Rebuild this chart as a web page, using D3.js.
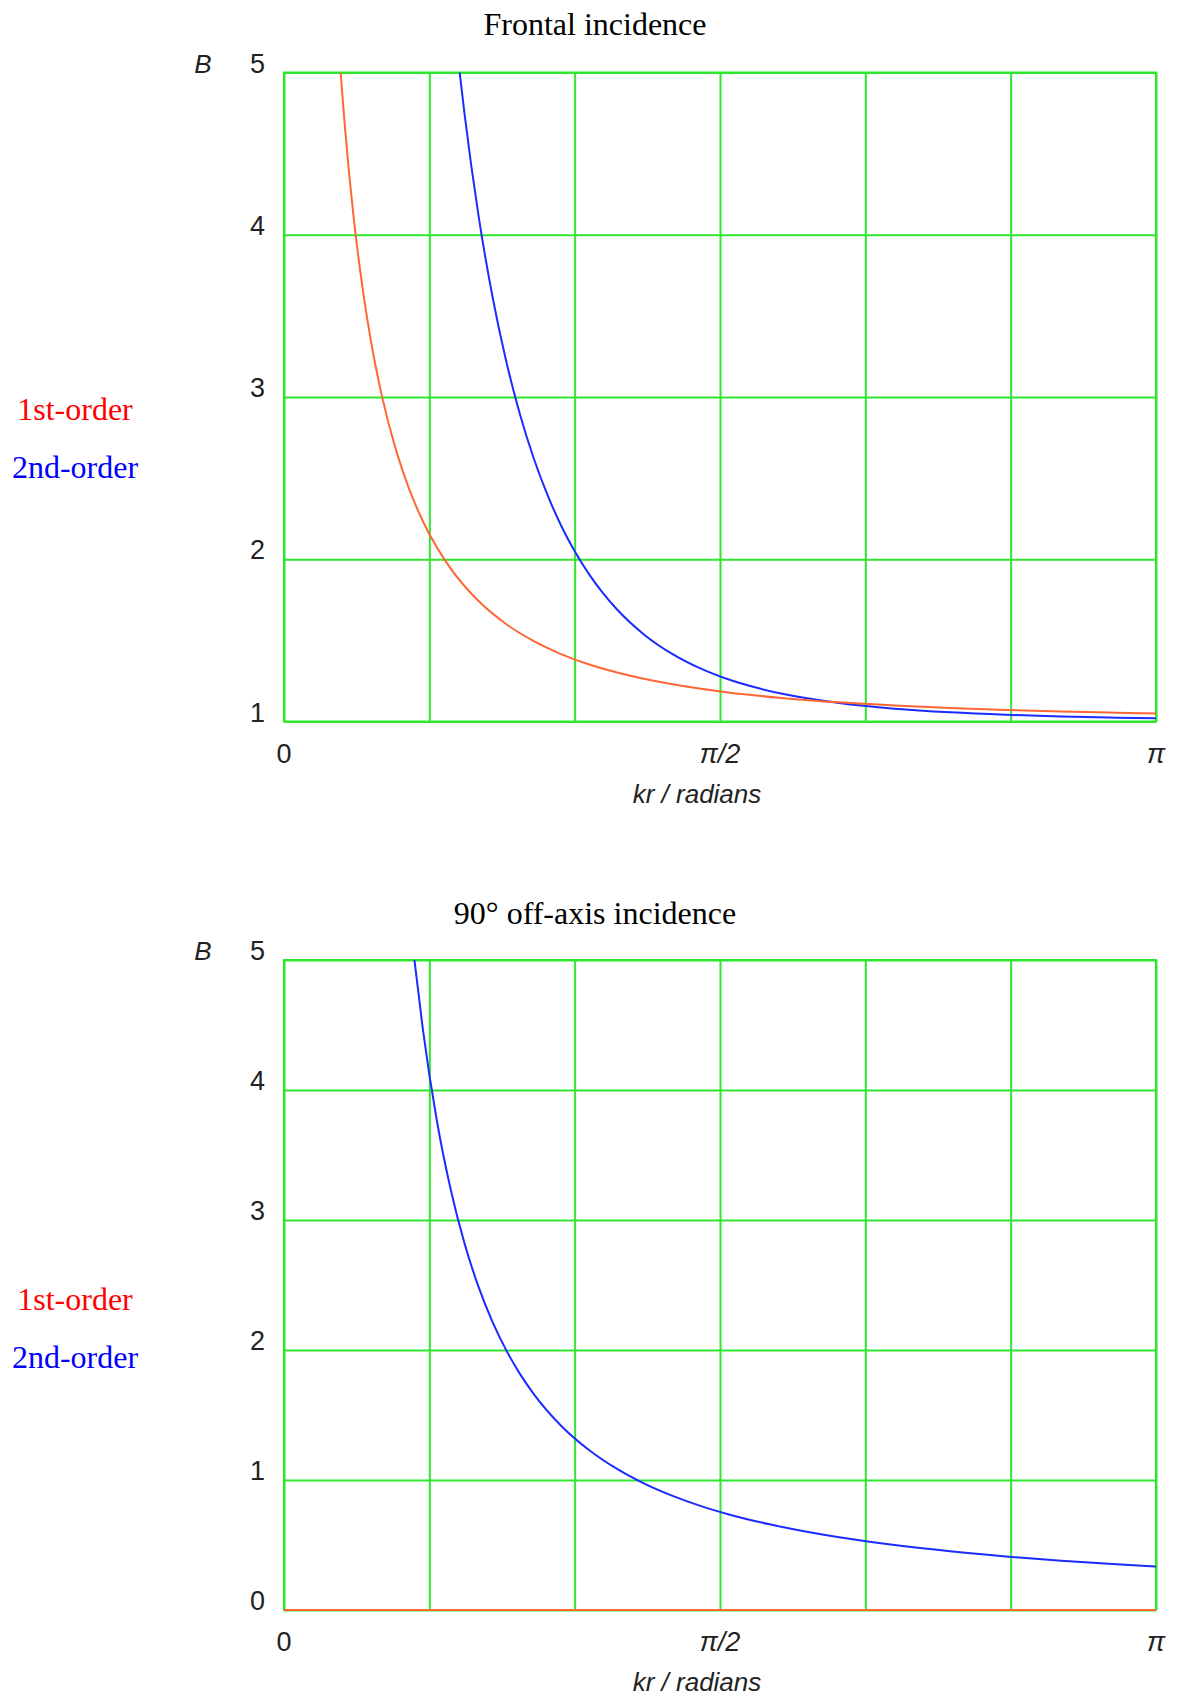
<!DOCTYPE html>
<html>
<head>
<meta charset="utf-8">
<script src="https://cdn.jsdelivr.net/npm/d3@7"></script>
<style>
  body { margin: 0; background: #fff; }
  svg { display: block; }
</style>
</head>
<body>
<div id="chart"></div>
<script>
// values
const PI = Math.PI;

// frontal incidence, 1st-order (orange)
const krFront1 = [0.2041, 0.21, 0.22, 0.235, 0.25, 0.275, 0.3, 0.325, 0.35, 0.4, 0.45, 0.5, 0.55, 0.6, 0.7, 0.8, 0.9, 1.0, 1.1, 1.2, 1.4, 1.6, 1.8, 2.0, 2.2, 2.4, 2.6, 2.8, 3.0, 3.1416];
const bFront1 = [5.0, 4.866, 4.654, 4.371, 4.123, 3.771, 3.480, 3.235, 3.027, 2.693, 2.437, 2.236, 2.075, 1.944, 1.744, 1.601, 1.495, 1.414, 1.351, 1.302, 1.229, 1.179, 1.144, 1.118, 1.0985, 1.0833, 1.0713, 1.0619, 1.0541, 1.0494];

// frontal incidence, 2nd-order (blue)
const krFront2 = [0.6329, 0.65, 0.7, 0.75, 0.8, 0.85, 0.9, 0.95, 1.0, 1.05, 1.1, 1.15, 1.2, 1.3, 1.4, 1.5, 1.6, 1.7, 1.8, 2.0, 2.2, 2.4, 2.6, 2.8, 3.0, 3.1416];
const bFront2 = [5.0, 4.751, 4.127, 3.629, 3.225, 2.894, 2.621, 2.393, 2.202, 2.041, 1.905, 1.789, 1.690, 1.532, 1.415, 1.327, 1.260, 1.209, 1.169, 1.114, 1.079, 1.0565, 1.0413, 1.0308, 1.0235, 1.0196];

// 90 deg off-axis incidence, 1st-order (orange, zero everywhere)
const krSide1 = [0, 3.1416];
const bSide1 = [0, 0];

// 90 deg off-axis incidence, 2nd-order (blue)
const krSide2 = [0.47, 0.5, 0.55, 0.6, 0.65, 0.7, 0.75, 0.8, 0.85, 0.9, 1.0, 1.1, 1.2, 1.3, 1.4, 1.5, 1.6, 1.8, 2.0, 2.2, 2.4, 2.6, 2.8, 3.0, 3.1416];
const bSide2 = [5.0, 4.472, 3.773, 3.240, 2.823, 2.491, 2.222, 2.001, 1.8165, 1.661, 1.414, 1.229, 1.085, 0.9705, 0.878, 0.8012, 0.737, 0.636, 0.559, 0.4993, 0.4514, 0.412, 0.3792, 0.3514, 0.334];

const gridX = [0, PI / 6, PI / 3, PI / 2, 2 * PI / 3, 5 * PI / 6, PI];
const xTickVals = [0, PI / 2, PI];
const xTickLabels = ["0", "π/2", "π"];
const yTicksFront = [1, 2, 3, 4, 5];
const yTicksSide = [0, 1, 2, 3, 4, 5];
const legendLabels = ["1st-order", "2nd-order"];

const colors = {
  grid: "#2ee62e",
  first: "#ff6633",
  second: "#1a2cff",
  legend1: "#ff0000",
  legend2: "#0000ff"
};

const width = 1178, height = 1700;
const svg = d3.select("#chart").append("svg")
  .attr("width", width)
  .attr("height", height);

function drawPanel(p) {
  const x = d3.scaleLinear().domain([0, PI]).range([284, 1156]);
  const y = d3.scaleLinear().domain(p.yDomain).range([p.bottom, p.top]);
  const g = svg.append("g");

  // title
  g.append("text")
    .attr("x", 595).attr("y", p.titleY)
    .attr("text-anchor", "middle")
    .attr("font-family", "Liberation Serif, Times New Roman, serif")
    .attr("font-size", 32)
    .text(p.title);

  // legend
  legendLabels.forEach((t, i) => {
    g.append("text")
      .attr("x", 75).attr("y", p.legendY + i * 58)
      .attr("text-anchor", "middle")
      .attr("font-family", "Liberation Serif, Times New Roman, serif")
      .attr("font-size", 32)
      .attr("fill", i === 0 ? colors.legend1 : colors.legend2)
      .text(t);
  });

  // grid
  const gx = g.append("g")
    .attr("transform", `translate(0,${p.bottom})`)
    .call(d3.axisBottom(x).tickValues(gridX).tickSize(-(p.bottom - p.top)).tickFormat(""));
  const gy = g.append("g")
    .attr("transform", "translate(284,0)")
    .call(d3.axisLeft(y).tickValues(p.yTicks).tickSize(-(1156 - 284)).tickFormat(""));
  [gx, gy].forEach(a => {
    a.select(".domain").remove();
    a.selectAll(".tick line").attr("stroke", colors.grid).attr("stroke-width", 2);
  });
  g.append("rect")
    .attr("x", 284).attr("y", p.top)
    .attr("width", 1156 - 284).attr("height", p.bottom - p.top)
    .attr("fill", "none").attr("stroke", colors.grid).attr("stroke-width", 2);

  // y tick labels
  g.selectAll(".ylab").data(p.yTicks).enter().append("text")
    .attr("x", 265).attr("y", d => y(d))
    .attr("text-anchor", "end")
    .attr("font-family", "Liberation Sans, Arial, sans-serif")
    .attr("font-size", 27)
    .attr("fill", "#222")
    .text(d => d);

  g.append("text")
    .attr("x", 203).attr("y", p.top)
    .attr("text-anchor", "middle")
    .attr("font-family", "Liberation Sans, Arial, sans-serif")
    .attr("font-style", "italic")
    .attr("font-size", 26)
    .attr("fill", "#222")
    .text("B");

  // x tick labels
  g.selectAll(".xlab").data(xTickVals).enter().append("text")
    .attr("x", d => x(d)).attr("y", p.bottom + 41)
    .attr("text-anchor", "middle")
    .attr("font-family", "Liberation Sans, Arial, sans-serif")
    .attr("font-style", (d, i) => i === 0 ? "normal" : "italic")
    .attr("font-size", 27)
    .attr("fill", "#222")
    .text((d, i) => xTickLabels[i]);

  g.append("text")
    .attr("x", 697).attr("y", p.bottom + 81)
    .attr("text-anchor", "middle")
    .attr("font-family", "Liberation Sans, Arial, sans-serif")
    .attr("font-style", "italic")
    .attr("font-size", 26)
    .attr("fill", "#222")
    .text("kr / radians");

  // curves
  const clipId = "clip" + p.id;
  svg.append("clipPath").attr("id", clipId)
    .append("rect")
    .attr("x", 284).attr("y", p.top - 1)
    .attr("width", 1156 - 284).attr("height", p.bottom - p.top + 2);

  const line = d3.line()
    .x(d => x(d[0]))
    .y(d => y(d[1]))
    .curve(d3.curveMonotoneX);

  p.series.forEach(s => {
    g.append("path")
      .datum(d3.zip(s.kr, s.b))
      .attr("clip-path", `url(#${clipId})`)
      .attr("fill", "none")
      .attr("stroke", s.color)
      .attr("stroke-width", 2)
      .attr("d", line);
  });
}

drawPanel({
  id: 1,
  title: "Frontal incidence",
  titleY: 35,
  legendY: 420,
  top: 72.5,
  bottom: 721.5,
  yDomain: [1, 5],
  yTicks: yTicksFront,
  series: [
    { kr: krFront2, b: bFront2, color: colors.second },
    { kr: krFront1, b: bFront1, color: colors.first }
  ]
});

drawPanel({
  id: 2,
  title: "90° off-axis incidence",
  titleY: 924,
  legendY: 1310,
  top: 960,
  bottom: 1610,
  yDomain: [0, 5],
  yTicks: yTicksSide,
  series: [
    { kr: krSide2, b: bSide2, color: colors.second },
    { kr: krSide1, b: bSide1, color: colors.first }
  ]
});
</script>
</body>
</html>
